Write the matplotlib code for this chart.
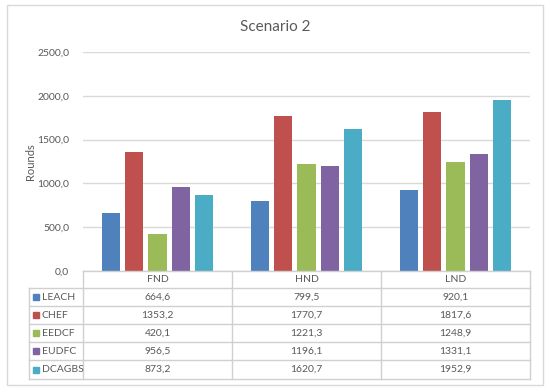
import matplotlib.pyplot as plt
import matplotlib.transforms as mtransforms
from matplotlib.patches import Rectangle
import numpy as np

plt.rcParams['font.family'] = ['Lato', 'DejaVu Sans']

categories = ['FND', 'HND', 'LND']
series = ['LEACH', 'CHEF', 'EEDCF', 'EUDFC', 'DCAGBS']
values = {
    'LEACH':  [664.6, 799.5, 920.1],
    'CHEF':   [1353.2, 1770.7, 1817.6],
    'EEDCF':  [420.1, 1221.3, 1248.9],
    'EUDFC':  [956.5, 1196.1, 1331.1],
    'DCAGBS': [873.2, 1620.7, 1952.9],
}
colors = ['#4F81BD', '#C0504D', '#9BBB59', '#8064A2', '#4BACC6']
yticks = [0, 500, 1000, 1500, 2000, 2500]

W, H = 550, 392
txt = '#595959'
grid = '#D9D9D9'
fs = 7.5

fig = plt.figure(figsize=(W / 100, H / 100), dpi=100)

# outer chart border
fig.patches.append(Rectangle((7 / W, 1 - 385 / H), 536 / W, 380 / H,
                             transform=fig.transFigure, fill=False,
                             edgecolor='#D9D9D9', linewidth=1))

ax = fig.add_axes([83 / W, 1 - 271 / H, (530 - 83) / W, (271 - 52) / H])
x = np.arange(len(categories))
step = 0.155
width = 0.122
for i, s in enumerate(series):
    ax.bar(x + (i - 2) * step, values[s], width=width, color=colors[i], zorder=3)

ax.set_xlim(-0.5, 2.5)
ax.set_ylim(0, 2500)
ax.set_yticks(yticks)
ax.set_yticklabels([f'{v:.1f}'.replace('.', ',') for v in yticks],
                   fontsize=fs, color=txt)
ax.tick_params(axis='y', length=0, pad=10)
ax.set_xticks([])
ax.grid(axis='y', color=grid, linewidth=1, zorder=0)
for sp in ax.spines.values():
    sp.set_visible(False)
ax.set_ylabel('Rounds', fontsize=fs + 0.5, color=txt, labelpad=1)

fig.text(0.5, 1 - 27 / H, 'Scenario 2', ha='center', va='center',
         fontsize=11, color=txt)

# data table under the axis
tr = mtransforms.blended_transform_factory(ax.transData, fig.transFigure)
lc = '#D0D0D0'
row_y = [271, 288, 306, 324, 342, 360, 379]


def fy(p):
    return 1 - p / H


# horizontal lines
for k, yy in enumerate(row_y):
    x0 = 83 / W if k == 0 else 29 / W
    fig.add_artist(plt.Line2D([x0, 530 / W], [fy(yy), fy(yy)],
                              transform=fig.transFigure, color=lc, linewidth=1))
# vertical lines
for b in [-0.5, 0.5, 1.5, 2.5]:
    fig.add_artist(plt.Line2D([b, b], [fy(row_y[0]), fy(row_y[-1])],
                              transform=tr, color=lc, linewidth=1))
fig.add_artist(plt.Line2D([29 / W, 29 / W], [fy(row_y[1]), fy(row_y[-1])],
                          transform=fig.transFigure, color=lc, linewidth=1))

# header
for j, c in enumerate(categories):
    fig.text(x[j], fy((row_y[0] + row_y[1]) / 2), c, transform=tr,
             ha='center', va='center', fontsize=fs, color=txt)

# rows
for i, s in enumerate(series):
    yc = fy((row_y[i + 1] + row_y[i + 2]) / 2)
    fig.patches.append(Rectangle((33 / W, yc - 3 / H), 6 / W, 6 / H,
                                 transform=fig.transFigure, color=colors[i]))
    fig.text(42 / W, yc, s, ha='left', va='center', fontsize=fs, color=txt)
    for j in range(len(categories)):
        fig.text(x[j], yc, f'{values[s][j]:.1f}'.replace('.', ','), transform=tr,
                 ha='center', va='center', fontsize=fs, color=txt)

fig.savefig('out.png', dpi=100)
